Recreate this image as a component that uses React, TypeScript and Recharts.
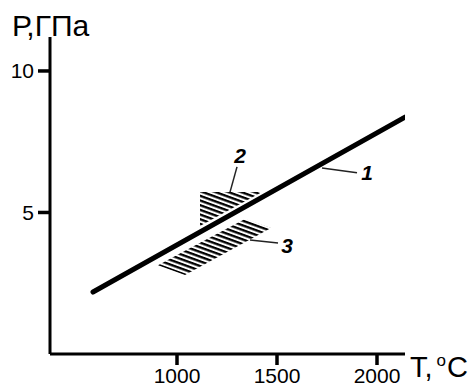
import {
  ComposedChart, Line, Area, XAxis, YAxis, ReferenceLine, ReferenceDot, Label
} from 'recharts';

// T, °C and P, GPa
const xTicks = [1000, 1500, 2000];
const yTicks = [5, 10];

// curve 1
const line1 = [
  { T: 580, P: 2.19 },
  { T: 2140, P: 8.37 },
];

// hatched field 2 (above curve 1), [low, high]
const field2 = [
  { T: 1115, range: [4.52, 5.72] },
  { T: 1425, range: [5.72, 5.72] },
];

// hatched field 3 (below curve 1), [low, high]
const field3 = [
  { T: 905, range: [3.14, 3.14] },
  { T: 1040, range: [2.79, 3.65] },
  { T: 1340, range: [3.95, 4.77] },
  { T: 1470, range: [4.45, 4.45] },
];

// leader lines and their numbers
const callouts = [
  { id: '1', from: [1725, 6.57], to: [1900, 6.4], at: [1950, 6.4] },
  { id: '2', from: [1300, 6.61], to: [1265, 5.72], at: [1315, 7.0] },
  { id: '3', from: [1365, 4.03], to: [1505, 3.92], at: [1550, 3.85] },
];

const font = '"Liberation Sans", Arial, sans-serif';

const XTick = ({ x, y, payload }: any) => (
  <text x={x} y={y + 18} textAnchor="middle" fontSize={21} fontFamily={font} fill="#000">
    {payload.value}
  </text>
);

const YTick = ({ x, y, payload }: any) => (
  <text x={x - 4} y={y + 7.5} textAnchor="end" fontSize={21} fontFamily={font} fill="#000">
    {payload.value}
  </text>
);

const YTitle = ({ viewBox }: any) => (
  <text x={viewBox.x + 12} y={viewBox.y - 1} fontSize={30} fontFamily={font} fill="#000">
    Р,ГПа
  </text>
);

const XTitle = ({ viewBox }: any) => (
  <text x={viewBox.x + viewBox.width + 5} y={viewBox.y + 23} fontSize={29} fontFamily={font} fill="#000">
    T,
    <tspan fontSize={17} dx={4} dy={-11}>o</tspan>
    <tspan fontSize={29} dx={1} dy={11}>C</tspan>
  </text>
);

const Num = ({ viewBox, value }: any) => (
  <text
    x={viewBox.x}
    y={viewBox.y}
    textAnchor="middle"
    dominantBaseline="central"
    fontSize={21}
    fontWeight="bold"
    fontStyle="italic"
    fontFamily={font}
    fill="#000"
  >
    {value}
  </text>
);

export default function App() {
  return (
    <div style={{ position: 'absolute', left: 0, top: 0, background: '#fff' }}>
      <ComposedChart width={470} height={385} margin={{ top: 37, right: 65, bottom: 0, left: 0 }}>
        <defs>
          <pattern id="hatch" patternUnits="userSpaceOnUse" width={10} height={4.4} patternTransform="rotate(20)">
            <rect x={0} y={0} width={10} height={2.3} fill="#000" />
          </pattern>
        </defs>
        <XAxis
          type="number"
          dataKey="T"
          domain={[365, 2140]}
          allowDataOverflow
          ticks={xTicks}
          height={31}
          axisLine={{ stroke: '#000', strokeWidth: 3 }}
          tickLine={{ stroke: '#000', strokeWidth: 3.5 }}
          tickSize={11}
          tickMargin={0}
          tick={<XTick />}
        >
          <Label content={XTitle} />
        </XAxis>
        <YAxis
          type="number"
          domain={[0, 11.2]}
          allowDataOverflow
          ticks={yTicks}
          width={50}
          axisLine={{ stroke: '#000', strokeWidth: 3 }}
          tickLine={{ stroke: '#000', strokeWidth: 3.5 }}
          tickSize={12}
          tickMargin={0}
          tick={<YTick />}
        >
          <Label content={YTitle} />
        </YAxis>
        <Area
          data={field2}
          dataKey="range"
          type="linear"
          stroke="none"
          fill="url(#hatch)"
          fillOpacity={1}
          isAnimationActive={false}
        />
        <Area
          data={field3}
          dataKey="range"
          type="linear"
          stroke="none"
          fill="url(#hatch)"
          fillOpacity={1}
          isAnimationActive={false}
        />
        <Line
          data={line1}
          dataKey="P"
          type="linear"
          stroke="#000"
          strokeWidth={5}
          strokeLinecap="round"
          dot={false}
          isAnimationActive={false}
        />
        {callouts.map((c) => (
          <ReferenceLine
            key={'l' + c.id}
            segment={[{ x: c.from[0], y: c.from[1] }, { x: c.to[0], y: c.to[1] }]}
            stroke="#222"
            strokeWidth={1.5}
          />
        ))}
        {callouts.map((c) => (
          <ReferenceDot
            key={'d' + c.id}
            x={c.at[0]}
            y={c.at[1]}
            r={0}
            fill="none"
            stroke="none"
            label={<Num value={c.id} />}
          />
        ))}
      </ComposedChart>
    </div>
  );
}
